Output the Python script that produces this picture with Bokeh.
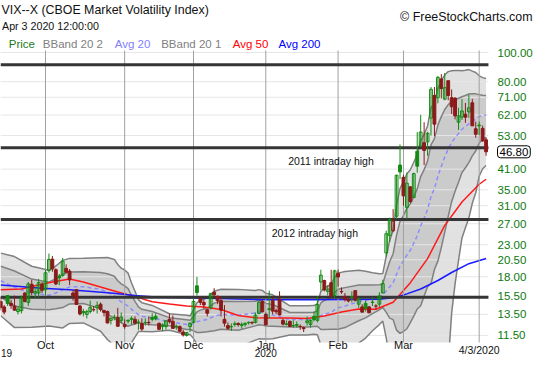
import numpy as np
from bokeh.plotting import figure
from bokeh.models import Label, Range1d, ColumnDataSource
from bokeh.embed import file_html
from bokeh.resources import INLINE

# ---------------- data (trading-day index 0 = 2019-09-12) ----------------
prev_close = 14.61
opens = [14.9, 14.3, 15.6, 14.7, 14.4, 13.8, 13.9, 15.9, 14.8, 17.0,
         15.9, 15.9, 17.0, 16.3, 18.9, 20.6, 19.0, 18.1, 18.2, 19.2,
         18.8, 15.9, 16.3, 14.4, 13.8, 13.5, 13.8, 14.0, 14.2, 14.6,
         13.9, 13.8, 12.9, 13.2, 13.2, 12.9, 12.5, 12.9, 13.0, 13.0,
         12.7, 12.6, 12.7, 12.7, 13.2, 13.3, 12.6, 12.3, 12.3, 13.0,
         12.8, 12.3, 12.3, 11.8, 11.5, 12.3, 12.7, 16.8, 15.2, 14.8,
         14.0, 14.2, 16.0, 15.5, 15.0, 13.0, 12.4, 12.3, 12.5, 12.6,
         12.4, 12.5, 12.7, 12.7, 12.7, 13.6, 14.9, 13.5, 14.1, 15.0,
         13.9, 15.1, 12.9, 12.5, 12.8, 12.4, 12.5, 12.3, 12.2, 12.7,
         12.5, 13.3, 12.9, 17.3, 17.5, 16.1, 17.2, 15.6, 18.5, 16.1,
         15.5, 15.1, 15.4, 16.2, 14.6, 14.3, 14.7, 14.3, 14.8, 14.4,
         14.6, 15.9, 21.6, 24.7, 25.6, 28.6, 42.3, 38.5, 30.6, 35.8,
         33.0, 47.0, 49.0, 50.2, 50.5, 60.6, 72.0, 70.8, 81.7, 70.0,
         80.6, 70.8, 70.6, 58.7, 61.0, 62.4, 63.5, 68.1, 55.8, 57.4,
         56.0, 51.3]
highs = [15.4, 14.5, 15.6, 15.1, 15.6, 14.4, 15.6, 16.0, 17.3, 17.6,
         16.6, 17.7, 17.3, 19.0, 21.5, 21.1, 19.2, 18.4, 20.8, 19.8,
         19.1, 16.2, 16.4, 14.5, 14.1, 14.0, 15.0, 14.4, 14.9, 14.8,
         14.0, 13.9, 13.2, 13.5, 14.2, 13.7, 13.0, 13.0, 13.3, 13.3,
         13.0, 13.1, 13.1, 13.3, 13.6, 13.6, 12.7, 12.6, 12.9, 13.6,
         13.4, 12.5, 12.4, 12.0, 11.8, 12.7, 15.2, 17.99, 15.5, 15.1,
         14.0, 15.9, 16.5, 15.6, 15.5, 14.5, 12.7, 12.6, 12.8, 12.7,
         12.7, 12.7, 12.8, 12.8, 13.7, 15.0, 15.1, 13.7, 16.2, 15.5,
         14.1, 16.1, 13.1, 12.9, 12.9, 12.9, 12.8, 12.5, 12.3, 13.3,
         13.0, 13.8, 15.5, 19.0, 17.6, 16.9, 19.0, 19.0, 19.0, 16.6,
         15.9, 15.4, 16.1, 16.2, 15.4, 14.6, 15.0, 14.4, 15.4, 14.6,
         16.0, 17.6, 25.6, 28.3, 30.2, 39.2, 49.5, 39.3, 39.9, 36.0,
         39.9, 54.4, 62.1, 58.7, 54.5, 76.8, 76.8, 83.6, 84.8, 85.5,
         80.9, 75.4, 71.0, 65.6, 70.0, 68.0, 72.5, 70.2, 58.9, 59.0,
         57.2, 52.3]
lows = [13.9, 13.5, 14.4, 14.1, 13.9, 13.5, 13.6, 14.8, 14.4, 15.6,
        15.2, 15.4, 15.9, 15.6, 18.6, 18.7, 16.9, 16.9, 18.0, 18.5,
        16.9, 15.0, 14.5, 13.4, 13.3, 13.1, 13.6, 13.8, 13.6, 13.8,
        13.3, 12.6, 12.5, 12.9, 12.3, 12.6, 12.1, 12.6, 12.5, 12.5,
        12.0, 11.9, 12.4, 12.4, 12.8, 12.9, 12.0, 11.9, 12.0, 12.6,
        12.3, 12.0, 11.8, 11.4, 11.4, 11.8, 12.6, 15.6, 14.5, 14.1,
        13.3, 14.0, 15.3, 14.6, 13.3, 12.3, 12.0, 11.9, 12.3, 12.3,
        12.1, 12.3, 12.5, 12.5, 12.6, 13.5, 13.7, 12.4, 13.1, 13.5,
        13.5, 13.4, 12.4, 12.4, 12.3, 12.2, 12.2, 12.0, 11.8, 12.4,
        12.2, 12.8, 12.7, 16.2, 16.1, 15.6, 15.5, 15.3, 16.7, 15.8,
        14.9, 14.8, 14.8, 14.9, 14.2, 13.7, 13.8, 13.6, 14.4, 14.0,
        14.3, 15.9, 21.0, 23.5, 25.3, 28.0, 38.0, 31.0, 28.0, 31.6,
        32.9, 39.9, 48.7, 42.3, 45.4, 53.0, 52.8, 67.8, 70.4, 69.4,
        69.4, 62.5, 60.0, 55.3, 59.7, 58.4, 60.7, 57.0, 52.1, 53.2,
        50.5, 45.4]
closes = [14.22, 13.74, 14.67, 14.44, 13.95, 14.05, 15.32, 14.91, 17.05, 15.96,
          16.07, 17.22, 16.24, 18.56, 20.56, 19.12, 17.04, 17.86, 20.28, 18.64,
          17.57, 15.58, 14.57, 13.54, 13.68, 13.79, 14.25, 14.00, 14.46, 14.01,
          13.71, 12.65, 13.11, 13.20, 12.33, 13.22, 12.30, 12.83, 13.10, 12.62,
          12.73, 12.07, 12.69, 12.68, 13.00, 13.05, 12.05, 12.46, 12.86, 12.78,
          12.13, 12.34, 11.87, 11.54, 11.75, 12.62, 14.91, 15.96, 14.80, 14.52,
          13.62, 15.86, 15.68, 14.99, 13.94, 12.63, 12.14, 12.29, 12.58, 12.50,
          12.51, 12.61, 12.67, 12.65, 13.43, 14.82, 13.78, 12.47, 14.02, 13.85,
          13.79, 13.45, 12.54, 12.56, 12.32, 12.39, 12.42, 12.32, 12.10, 12.85,
          12.91, 12.98, 14.56, 18.23, 16.28, 16.39, 15.49, 18.84, 17.97, 16.05,
          15.15, 14.96, 15.47, 15.04, 15.18, 13.74, 14.15, 13.68, 14.83, 14.38,
          15.56, 17.08, 25.03, 27.85, 27.56, 39.16, 40.11, 33.42, 36.82, 31.99,
          39.62, 41.94, 54.46, 47.30, 53.90, 75.47, 57.83, 82.69, 75.91, 76.45,
          72.00, 66.04, 61.59, 61.67, 63.95, 61.00, 65.54, 57.08, 53.54, 57.06,
          50.91, 46.80]

# Bollinger bands (20) and 20-day average, read at sample days
bb_idx = [0, 4, 9, 14, 16, 18, 20, 24, 29, 31, 33, 34, 35, 36, 37, 38, 39, 40, 41, 44,
          49, 54, 55, 56, 57, 58, 60, 62, 64, 69, 74, 75, 76, 77, 79, 84, 89, 91, 92, 93,
          94, 96, 97, 98, 100, 104, 106, 108, 110, 111, 112, 113, 114, 115, 116, 117, 118, 119, 120, 121,
          122, 123, 124, 125, 126, 127, 128, 129, 130, 131, 132, 133, 134, 135, 136, 137, 138, 139, 140, 141]
avg20 = [17.47, 16.61, 15.87, 15.64, 15.91, 16.29, 16.66, 16.69, 16.35, 16.00, 15.58, 15.17, 14.87, 14.64, 14.39, 14.03, 13.73, 13.48, 13.31, 13.14,
         12.77, 12.50, 12.47, 12.60, 12.76, 12.85, 12.99, 13.32, 13.49, 13.43, 13.65, 13.76, 13.70, 13.52, 13.45, 12.98, 12.98, 13.02, 13.11, 13.39,
         13.53, 13.70, 14.01, 14.21, 14.39, 14.88, 15.03, 15.24, 15.45, 15.65, 16.18, 16.66, 17.22, 18.36, 19.59, 20.32, 21.26, 22.06, 23.28, 24.63,
         26.58, 28.19, 30.13, 33.22, 35.40, 38.85, 41.90, 45.01, 47.83, 50.28, 52.11, 53.80, 55.62, 56.71, 57.98, 59.16, 60.00, 61.25, 61.82, 62.06]
bb2_up = [21.57, 21.01, 19.51, 18.92, 19.55, 20.41, 20.72, 20.73, 20.83, 20.86, 20.56, 19.77, 19.23, 18.96, 18.51, 17.17, 16.11, 15.12, 14.77, 14.46,
          13.57, 13.42, 13.35, 13.98, 14.76, 15.05, 15.31, 16.12, 16.37, 16.35, 16.21, 16.32, 16.22, 15.86, 15.69, 14.42, 14.42, 14.44, 14.67, 16.09,
          16.51, 17.00, 17.93, 18.51, 18.75, 18.92, 18.79, 18.56, 18.41, 18.47, 21.10, 23.72, 25.72, 31.14, 35.41, 37.24, 39.58, 40.80, 43.20, 45.75,
          50.90, 53.49, 57.03, 65.52, 68.14, 75.97, 80.62, 84.35, 86.41, 86.92, 87.13, 87.20, 87.02, 87.25, 87.76, 86.74, 85.78, 83.67, 82.54, 81.94]
bb1_up = [19.52, 18.81, 17.69, 17.28, 17.73, 18.35, 18.69, 18.71, 18.59, 18.43, 18.07, 17.47, 17.05, 16.80, 16.45, 15.60, 14.92, 14.30, 14.04, 13.80,
          13.17, 12.96, 12.91, 13.29, 13.76, 13.95, 14.15, 14.72, 14.93, 14.89, 14.93, 15.04, 14.96, 14.69, 14.57, 13.70, 13.70, 13.73, 13.89, 14.74,
          15.02, 15.35, 15.97, 16.36, 16.57, 16.90, 16.91, 16.90, 16.93, 17.06, 18.64, 20.19, 21.47, 24.75, 27.50, 28.78, 30.42, 31.43, 33.24, 35.19,
          38.74, 40.84, 43.58, 49.37, 51.77, 57.41, 61.26, 64.68, 67.12, 68.60, 69.62, 70.50, 71.32, 71.98, 72.87, 72.95, 72.89, 72.46, 72.18, 72.00]
bb1_lo = [15.42, 14.41, 14.05, 14.00, 14.09, 14.23, 14.63, 14.67, 14.11, 13.57, 13.09, 12.87, 12.69, 12.48, 12.33, 12.46, 12.54, 12.66, 12.58, 12.48,
          12.37, 12.04, 12.03, 11.91, 11.76, 11.75, 11.83, 11.92, 12.05, 11.97, 12.37, 12.48, 12.44, 12.35, 12.33, 12.26, 12.26, 12.31, 12.33, 12.04,
          12.04, 12.05, 12.05, 12.06, 12.21, 12.86, 13.15, 13.58, 13.97, 14.24, 13.72, 13.13, 12.97, 11.97, 11.68, 11.86, 12.10, 12.69, 13.32, 14.07,
          14.42, 15.54, 16.68, 17.07, 19.03, 20.29, 22.54, 25.34, 28.54, 31.96, 34.60, 37.10, 39.92, 41.44, 43.09, 45.37, 47.11, 50.04, 51.46, 52.12]
bb2_lo = [13.37, 12.21, 12.23, 12.36, 12.27, 12.17, 12.60, 12.65, 11.87, 11.14, 10.60, 10.57, 10.51, 10.32, 10.27, 10.89, 11.35, 11.84, 11.85, 11.82,
          11.97, 11.58, 11.59, 11.22, 10.76, 10.65, 10.67, 10.52, 10.61, 10.51, 11.09, 11.20, 11.18, 11.18, 11.21, 11.54, 11.54, 11.60, 11.55, 10.69,
          10.55, 10.40, 10.09, 9.91, 10.03, 10.84, 11.27, 11.92, 12.49, 12.83, 11.26, 9.60, 8.72, 5.58, 3.77, 3.40, 2.94, 3.32, 3.36, 3.51,
          2.26, 2.89, 3.23, 0.92, 2.66, 1.73, 3.18, 5.67, 9.25, 13.64, 17.09, 20.40, 24.22, 26.17, 28.20, 31.58, 34.22, 38.83, 41.10, 42.18]

avg50_idx = [0, 6, 10, 15, 20, 24, 29, 34, 39, 44, 49, 54, 59, 64, 69, 74, 79, 84, 89, 94,
             99, 104, 109, 114, 119, 124, 129, 134, 139, 141]
avg50 = [16.3, 16.4, 16.8, 17.3, 17.7, 17.3, 16.64, 16.03, 15.47, 14.87, 14.62, 14.39, 14.30, 14.01, 13.39, 13.17, 13.14, 13.13, 13.09, 13.33,
         13.76, 14.08, 14.04, 14.82, 17.21, 20.68, 26.66, 31.88, 36.52, 37.95]

avg200_idx = [0, 12, 20, 32, 39, 46, 58, 76, 90, 110, 115, 118, 122, 127, 131, 136, 141]
avg200 = [16.9, 16.5, 16.3, 15.9, 15.6, 15.4, 15.3, 15.1, 15.1, 15.15, 15.4, 15.8, 16.4, 17.5, 18.6, 19.9, 20.7]

ytick_vals = [11.5, 13.5, 15.5, 18, 20.5, 23, 27, 31, 35, 41, 53, 62, 71, 80, 100]
level_vals = [91.0, 48.3, 27.9, 15.4]
month_idx = [13, 36, 56, 77, 98, 117]
month_labels = ["Oct", "Nov", "Dec", "Jan", "Feb", "Mar"]
last_idx = 139
last_label = "4/3/2020"
year_idx = 77
year_label = "2020"
last_price = 46.80
note_2011 = (83.5, 43.5, "2011 intraday high")
note_2012 = (78.7, 25.2, "2012 intraday high")

FONT = "Liberation Sans"
W, H = 534, 359
# whole canvas is the frame; the price panel occupies part of it
CX0, CX1 = -0.0726, 155.07          # canvas x extent (trading-day index)
CY0, CY1 = 9.565, 148.82            # canvas y extent (log value)
PX0, PX1 = -0.0726, 141.69          # price panel x extent
PY0, PY1 = 10.89, 101.54            # price panel y extent

p = figure(width=W, height=H, y_axis_type="log", x_axis_location=None, y_axis_location=None,
           x_range=Range1d(CX0, CX1), y_range=Range1d(CY0, CY1),
           output_backend="svg", toolbar_location=None, min_border=0,
           min_border_left=0, min_border_right=0, min_border_top=0, min_border_bottom=0)
p.outline_line_color = None
p.grid.visible = False
p.background_fill_color = "white"
p.border_fill_color = "white"

# bands
p.varea(x=bb_idx, y1=bb2_lo, y2=bb2_up, fill_color="#e1e1e1")
p.varea(x=bb_idx, y1=bb1_lo, y2=bb1_up, fill_color="#cbcbcb")

# grid lines
n = len(ytick_vals)
p.segment(x0=[PX0] * n, x1=[PX1] * n, y0=ytick_vals, y1=ytick_vals, line_color="#e6e6e6", line_width=1)

for band in (bb2_up, bb2_lo, bb1_up, bb1_lo):
    p.line(bb_idx, band, line_color="#808080", line_width=1.5)

p.line(bb_idx, avg20, line_color="#8c8cff", line_width=1.5, line_dash="4 3")
p.line(avg50_idx, avg50, line_color="#ff1a1a", line_width=1.5)
p.line(avg200_idx, avg200, line_color="#1a1aff", line_width=1.5)

# white mask below the price panel (bands run off its bottom)
p.quad(left=[CX0], right=[PX1 + 0.3], bottom=[CY0 * 0.5], top=[PY0], fill_color="white", line_color=None)

vx = month_idx + [last_idx]
p.segment(x0=vx, x1=vx, y0=[PY0] * len(vx), y1=[PY1] * len(vx), line_color="#a0a0a0", line_width=1)

m = len(level_vals)
p.segment(x0=[PX0] * m, x1=[PX1] * m, y0=level_vals, y1=level_vals, line_color="#353535", line_width=3)

# candles
o = np.array(opens); h = np.array(highs); l = np.array(lows); c = np.array(closes)
idx = np.arange(len(c))
pc = np.concatenate([[prev_close], c[:-1]])
col = np.where(c >= pc, "#138a13", "#8b1a1a")
fa = np.where(c < o, 1.0, 0.0)
src = ColumnDataSource(dict(x=idx, o=o, h=h, l=l, c=c, top=np.maximum(o, c), bot=np.minimum(o, c),
                            col=col, fa=fa))
p.segment(x0="x", x1="x", y0="l", y1="h", line_color="col", line_width=1, source=src)
p.vbar(x="x", width=0.82, top="top", bottom="bot", fill_color="col", fill_alpha="fa",
       line_color="col", line_width=1, source=src)


def lab(text, x, y, size, color="#111111", align="left", xu="screen", yu="screen", **kw):
    p.add_layout(Label(x=x, y=y, x_units=xu, y_units=yu, text=text, text_font=FONT,
                       text_font_size=size, text_color=color, text_align=align,
                       text_baseline="middle", **kw))


# notes
for (nx, ny, nt) in (note_2011, note_2012):
    lab(nt, nx, ny, "10.5px", xu="data", yu="data")

# right axis labels
for v in ytick_vals:
    lab("%.2f" % v, 497, v, "11.5px", color="#0b7a0b", yu="data")

# last price box
lab("%.2f" % last_price, 497, last_price, "11.5px", color="#000000", yu="data",
    border_line_color="#000000", border_line_width=1, background_fill_color="white",
    padding=2, border_radius=3)

# x tick labels (screen y measured from canvas bottom)
for xi, t in zip(month_idx, month_labels):
    lab(t, xi, H - 344.5, "11px", align="center", xu="data")
lab(last_label, last_idx, H - 349, "10.5px", align="center", xu="data")
lab(year_label, year_idx, H - 352.5, "10px", align="center", xu="data")
lab("19", 0.5, H - 352.5, "10px")

# header
lab("VIX--X (CBOE Market Volatility Index)", 1, H - 9.5, "12.4px")
lab("Apr 3 2020 12:00:00", 1.5, H - 25, "10.7px")
legend_items = [("Price", "#1a7a1a", 8.3), ("BBand 20 2", "#808080", 42.3), ("Avg 20", "#8080ff", 114.3),
                ("BBand 20 1", "#808080", 160.7), ("Avg 50", "#ff0000", 232.3), ("Avg 200", "#0000ff", 278)]
for t, cc, lx in legend_items:
    lab(t, lx, H - 43.3, "11.5px", color=cc)
lab("\u00a9 FreeStockCharts.com", 532, H - 16.7, "12.4px", align="right")

open("out.html", "w").write(file_html(p, INLINE))
